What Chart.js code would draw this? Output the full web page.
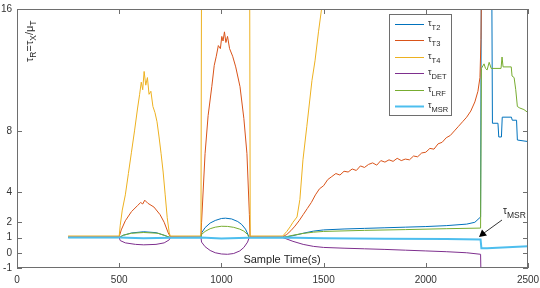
<!DOCTYPE html>
<html>
<head>
<meta charset="utf-8">
<script src="https://cdn.jsdelivr.net/npm/chart.js@4"></script>
<style>
  body { margin: 0; background: #fff; }
</style>
</head>
<body>
<canvas id="grafico" width="540" height="288"></canvas>
<script>
// ---- tick labels ----
const xTicks = [0, 500, 1000, 1500, 2000, 2500];
const yTicks = [-1, 0, 1, 2, 4, 8, 16];

// ---- tau_T2 ----
const tT2 = [250, 500, 520, 560, 620, 680, 720, 745, 900, 903, 920, 945, 970, 1000, 1020, 1050, 1080, 1100, 1118, 1130, 1136, 1300, 1350, 1400, 1450, 1500, 1600, 1700, 1800, 1900, 2000, 2100, 2200, 2240, 2268, 2272, 2322, 2326, 2353, 2357, 2370, 2374, 2419, 2423, 2444, 2448, 2500];
const vT2 = [1.0, 1.0, 1.15, 1.3, 1.38, 1.32, 1.15, 1.02, 1.0, 1.3, 1.65, 1.95, 2.12, 2.25, 2.27, 2.22, 2.05, 1.85, 1.55, 1.2, 1.0, 1.0, 1.12, 1.28, 1.42, 1.5, 1.56, 1.6, 1.64, 1.68, 1.72, 1.78, 1.88, 2.0, 2.35, 20, 20, 8.5, 8.5, 7.6, 7.6, 8.9, 8.9, 8.7, 8.7, 7.4, 7.3];

// ---- tau_T3 ----
const tT3 = [250, 500, 510, 530, 560, 590, 605, 615, 625, 640, 670, 700, 720, 740, 750, 900, 903, 920, 935, 953, 965, 975, 985, 995, 1002, 1008, 1015, 1022, 1030, 1040, 1055, 1070, 1091, 1110, 1125, 1137, 1140, 1300, 1320, 1340, 1360, 1380, 1400, 1420, 1440, 1460, 1480, 1500, 1520, 1540, 1560, 1580, 1600, 1620, 1640, 1660, 1680, 1700, 1720, 1740, 1760, 1780, 1800, 1820, 1840, 1860, 1880, 1900, 1920, 1940, 1960, 1980, 2000, 2020, 2040, 2060, 2080, 2100, 2120, 2140, 2160, 2180, 2200, 2220, 2240, 2255, 2265, 2270, 2274, 2500];
const vT3 = [1.05, 1.05, 1.5, 2.1, 2.7, 3.1, 3.3, 3.2, 3.45, 3.25, 3.0, 2.5, 2.0, 1.3, 1.05, 1.05, 2.0, 6.5, 9.0, 10.9, 12.3, 12.9, 13.6, 13.4, 14.2, 13.9, 14.5, 13.8, 14.2, 13.4, 12.9, 12.2, 10.9, 8.8, 6.5, 2.5, 1.05, 1.05, 1.2, 1.45, 1.75, 2.1, 2.5, 2.9, 3.3, 3.8, 4.2, 4.4, 4.8, 5.0, 5.2, 5.1, 5.35, 5.3, 5.5, 5.4, 5.7, 5.6, 5.8, 5.9, 5.75, 6.05, 5.95, 6.1, 6.0, 6.2, 6.05, 6.15, 6.1, 6.35, 6.3, 6.55, 6.6, 6.85, 6.8, 7.15, 7.25, 7.55, 7.7, 8.0, 8.3, 8.6, 8.9, 9.3, 9.9, 10.6, 11.5, 14.0, 20, 20];

// ---- tau_T4 ----
const tT4 = [250, 500, 505, 515, 530, 545, 560, 575, 590, 600, 608, 615, 622, 630, 638, 646, 655, 665, 675, 685, 695, 705, 715, 725, 735, 745, 750, 900, 903, 1138, 1141, 1300, 1320, 1336, 1350, 1370, 1384, 1399, 1418, 1443, 1458, 1475, 1492, 1510, 2500];
const vT4 = [1.1, 1.1, 1.8, 2.8, 3.8, 5.2, 6.6, 8.0, 9.5, 10.4, 11.2, 10.7, 11.9, 11.0, 11.5, 10.4, 10.6, 9.6, 9.2, 8.6, 7.6, 6.5, 5.3, 3.8, 2.3, 1.3, 1.1, 1.1, 20, 20, 1.1, 1.1, 1.4, 1.7, 2.0, 2.35, 3.5, 6.1, 8.3, 11.3, 12.6, 14.5, 16.2, 20, 20];

// ---- tau_DET ----
const tDET = [250, 500, 505, 530, 580, 620, 680, 720, 745, 750, 900, 903, 920, 945, 970, 1000, 1030, 1060, 1090, 1110, 1128, 1136, 1300, 1350, 1400, 1450, 1500, 1600, 1700, 1800, 1900, 2000, 2100, 2200, 2268, 2272, 2500];
const vDET = [1.0, 1.0, 0.8, 0.65, 0.55, 0.52, 0.55, 0.65, 0.85, 1.0, 1.0, 0.7, 0.4, 0.15, 0.0, -0.08, -0.1, -0.05, 0.12, 0.35, 0.7, 1.0, 1.0, 0.75, 0.55, 0.42, 0.35, 0.3, 0.26, 0.22, 0.17, 0.12, 0.07, 0.0, -0.1, -3, -3];

// ---- tau_LRF ----
const tLRF = [250, 500, 520, 560, 620, 690, 730, 750, 900, 903, 920, 945, 970, 1000, 1030, 1060, 1090, 1110, 1128, 1136, 1300, 1350, 1400, 1450, 1500, 1700, 1900, 2100, 2268, 2272, 2285, 2292, 2300, 2310, 2320, 2368, 2373, 2378, 2418, 2422, 2432, 2440, 2448, 2460, 2480, 2500];
const vLRF = [1.0, 1.0, 1.15, 1.28, 1.33, 1.28, 1.1, 1.0, 1.0, 1.2, 1.4, 1.58, 1.68, 1.74, 1.73, 1.67, 1.55, 1.42, 1.2, 1.0, 1.0, 1.15, 1.27, 1.35, 1.4, 1.47, 1.52, 1.58, 1.62, 12.1, 12.4, 12.1, 12.0, 12.5, 12.1, 12.1, 12.85, 12.2, 12.2, 11.6, 11.5, 10.7, 9.6, 9.5, 9.4, 9.2];

// ---- tau_MSR ----
const tMSR = [250, 500, 620, 750, 900, 1000, 1130, 1300, 1500, 1800, 2100, 2268, 2272, 2300, 2400, 2500];
const vMSR = [1.0, 1.0, 0.95, 0.98, 1.0, 0.93, 0.98, 1.0, 0.95, 0.92, 0.9, 0.87, 0.3, 0.3, 0.36, 0.42];

const pts = (t, v) => t.map((x, i) => ({ x: x, y: v[i] }));

const serie = (label, t, v, color, width, order) => ({
  label: label,
  data: pts(t, v),
  borderColor: color,
  backgroundColor: color,
  borderWidth: width,
  pointRadius: 0,
  tension: 0,
  order: order,
});

const datasets = [
  serie("T2", tT2, vT2, "#0072BD", 1, 5),
  serie("T3", tT3, vT3, "#D95319", 1, 4),
  serie("T4", tT4, vT4, "#EDB120", 1, 3),
  serie("DET", tDET, vDET, "#7E2F8E", 1, 2),
  serie("LRF", tLRF, vLRF, "#77AC30", 1, 1),
  serie("MSR", tMSR, vMSR, "#4DBEEE", 2, 0),
];

// texto com subscrito: partes [texto, subscrito]
function tex(ctx, parts, x, y, size, subSize, drop) {
  parts.forEach((p) => {
    ctx.font = size + "px 'Liberation Sans', Arial, sans-serif";
    ctx.fillText(p[0], x, y);
    x += ctx.measureText(p[0]).width;
    if (p[1]) {
      ctx.font = subSize + "px 'Liberation Sans', Arial, sans-serif";
      ctx.fillText(p[1], x, y + drop);
      x += ctx.measureText(p[1]).width;
    }
  });
}

const extras = {
  id: "extras",
  afterDraw(chart) {
    const ctx = chart.ctx;
    const a = chart.chartArea;
    const xs = chart.scales.x;
    const ys = chart.scales.y;
    ctx.save();

    // caixa dos eixos
    ctx.strokeStyle = "#6e6e6e";
    ctx.lineWidth = 1;
    ctx.strokeRect(a.left + 0.5, a.top + 0.5, a.right - a.left - 1, a.bottom - a.top - 1);

    // marcas para dentro
    ctx.beginPath();
    yTicks.forEach((v) => {
      const y = Math.round(ys.getPixelForValue(v)) + 0.5;
      ctx.moveTo(a.left, y); ctx.lineTo(a.left + 5, y);
      ctx.moveTo(a.right, y); ctx.lineTo(a.right - 5, y);
    });
    xTicks.forEach((v) => {
      const x = Math.round(xs.getPixelForValue(v)) + 0.5;
      ctx.moveTo(x, a.bottom); ctx.lineTo(x, a.bottom - 5);
      ctx.moveTo(x, a.top); ctx.lineTo(x, a.top + 5);
    });
    ctx.stroke();

    // titulo do eixo x
    ctx.fillStyle = "#262626";
    ctx.font = "11px 'Liberation Sans', Arial, sans-serif";
    ctx.textAlign = "center";
    ctx.textBaseline = "alphabetic";
    ctx.fillText("Sample Time(s)", 282, 263);
    ctx.textAlign = "left";

    // titulo do eixo y (girado)
    ctx.save();
    ctx.translate(33, 62);
    ctx.rotate(-Math.PI / 2);
    tex(ctx, [["\u03C4", "R"], ["=\u03C4", "X"], ["/\u03BC", "T"]], 0, 0, 11, 8.5, 3);
    ctx.restore();

    // legenda
    ctx.fillStyle = "#fff";
    ctx.fillRect(389, 14, 63, 102);
    ctx.strokeStyle = "#6e6e6e";
    ctx.strokeRect(389.5, 14.5, 62, 101);
    datasets.forEach((d, i) => {
      const y = 24 + i * 16.4;
      ctx.strokeStyle = d.borderColor;
      ctx.lineWidth = d.borderWidth;
      ctx.beginPath();
      ctx.moveTo(395, Math.round(y) + 0.5);
      ctx.lineTo(424, Math.round(y) + 0.5);
      ctx.stroke();
      ctx.fillStyle = "#262626";
      tex(ctx, [["\u03C4", d.label]], 428, y + 2, 9, 7.5, 4);
    });

    // anotacao tau_MSR
    ctx.fillStyle = "#262626";
    tex(ctx, [["\u03C4", "MSR"]], 503, 214, 10, 8.5, 4);
    ctx.strokeStyle = "#000";
    ctx.lineWidth = 0.8;
    ctx.beginPath();
    ctx.moveTo(502, 220);
    ctx.lineTo(484, 233);
    ctx.stroke();
    ctx.fillStyle = "#000";
    ctx.beginPath();
    ctx.moveTo(479, 237);
    ctx.lineTo(482, 229.5);
    ctx.lineTo(487, 235.5);
    ctx.closePath();
    ctx.fill();

    ctx.restore();
  },
};

const config = {
  type: "line",
  data: { datasets: datasets },
  options: {
    responsive: false,
    animation: false,
    layout: { padding: { top: 9, right: 12, left: 0, bottom: 0 } },
    plugins: { legend: { display: false }, tooltip: { enabled: false } },
    scales: {
      x: {
        type: "linear",
        min: 0,
        max: 2500,
        grid: { display: false, drawTicks: false },
        border: { display: false },
        ticks: {
          stepSize: 500,
          padding: 6,
          color: "#333",
          font: { size: 10, family: "'Liberation Sans', Arial, sans-serif" },
          maxRotation: 0,
          callback: (v) => String(v),
        },
        afterBuildTicks: (s) => { s.ticks = xTicks.map((v) => ({ value: v })); },
        afterFit: (s) => { s.height = 20; s.paddingLeft = 0; s.paddingRight = 0; },
      },
      y: {
        type: "linear",
        min: -1,
        max: 16,
        grid: { display: false, drawTicks: false },
        border: { display: false },
        ticks: {
          padding: 5,
          color: "#333",
          font: { size: 10, family: "'Liberation Sans', Arial, sans-serif" },
          callback: (v) => String(v),
        },
        afterBuildTicks: (s) => { s.ticks = yTicks.map((v) => ({ value: v })); },
        afterFit: (s) => { s.width = 17; s.paddingTop = 0; s.paddingBottom = 0; },
      },
    },
  },
  plugins: [extras],
};

const grafico = new Chart(document.getElementById("grafico"), config);
</script>
</body>
</html>
